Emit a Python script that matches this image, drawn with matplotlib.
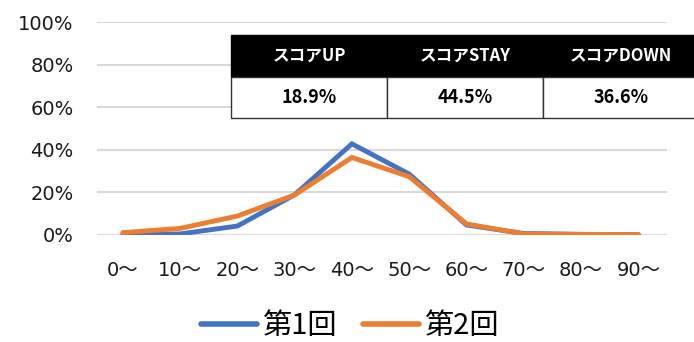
import matplotlib
matplotlib.use("Agg")
import matplotlib.pyplot as plt
from matplotlib.patches import Rectangle
from matplotlib.ticker import PercentFormatter

plt.rcParams['font.family'] = ['Noto Sans CJK JP', 'DejaVu Sans']
TICK_FONT = ['DejaVu Sans', 'Noto Sans CJK JP']

# Score bands and share of people in each band (%)
bands = ["0～", "10～", "20～", "30～", "40～", "50～", "60～", "70～", "80～", "90～"]
round1 = [0.2, 0.5, 4.2, 18.9, 42.8, 28.6, 4.7, 0.7, 0.3, 0.2]
round2 = [1.1, 3.1, 8.9, 18.8, 36.4, 27.4, 5.2, 0.5, 0.3, 0.2]
series_names = ["第1回", "第2回"]
series_colors = ["#4472C4", "#ED7D31"]

# Summary table
table_headers = ["スコアUP", "スコアSTAY", "スコアDOWN"]
table_values = ["18.9%", "44.5%", "36.6%"]

W, H = 694, 342
fig = plt.figure(figsize=(W / 100, H / 100), dpi=100)
ax = fig.add_axes([97 / W, 1 - 235 / H, (667 - 97) / W, (235 - 22) / H])

x = list(range(len(bands)))
ax.plot(x, round1, color=series_colors[0], lw=3.5, solid_capstyle='round',
        solid_joinstyle='miter', label=series_names[0], zorder=3)
ax.plot(x, round2, color=series_colors[1], lw=3.5, solid_capstyle='round',
        solid_joinstyle='miter', label=series_names[1], zorder=4)

ax.set_xlim(-0.45, 9.5)
ax.set_ylim(0, 100)
ax.set_yticks(range(0, 101, 20))
ax.yaxis.set_major_formatter(PercentFormatter(decimals=0))
ax.set_xticks(x)
ax.set_xticklabels(bands)
ax.grid(axis='y', color='#D9D9D9', lw=1.5, zorder=0)
ax.set_axisbelow(True)
for s in ax.spines.values():
    s.set_visible(False)
ax.tick_params(axis='both', length=0, labelsize=14, colors='#1a1a1a')
ax.tick_params(axis='x', pad=19)
ax.tick_params(axis='y', pad=17)
for lab in ax.get_xticklabels() + ax.get_yticklabels():
    lab.set_family(TICK_FONT)

leg = fig.legend(loc='center', bbox_to_anchor=(350 / W, 1 - 326 / H), ncol=2,
                 frameon=False, fontsize=21, handlelength=1.9, handletextpad=0.2,
                 columnspacing=0.9)
for line in leg.get_lines():
    line.set_linewidth(4)
    line.set_solid_capstyle('round')

# Summary table drawn in pixel space of the figure
def fx(px):
    return px / W

def fy(py):
    return 1 - py / H

left, col_w = 231, 156
top, mid, bottom = 35, 77, 118
for i, (head, val) in enumerate(zip(table_headers, table_values)):
    x0 = left + i * col_w
    fig.patches.append(Rectangle((fx(x0), fy(mid)), col_w / W, (mid - top) / H,
                                 transform=fig.transFigure, facecolor='black',
                                 edgecolor='black', lw=1, zorder=5))
    fig.patches.append(Rectangle((fx(x0), fy(bottom)), col_w / W, (bottom - mid) / H,
                                 transform=fig.transFigure, facecolor='white',
                                 edgecolor='#333333', lw=1, zorder=5))
    cx = x0 + col_w / 2
    fig.text(fx(cx), fy((top + mid) / 2), head, color='white', fontsize=12,
             fontweight='bold', ha='center', va='center', zorder=6)
    fig.text(fx(cx), fy((mid + bottom) / 2), val, color='black', fontsize=13,
             fontweight='bold', ha='center', va='center', zorder=6)

fig.savefig("out.png", dpi=100)
